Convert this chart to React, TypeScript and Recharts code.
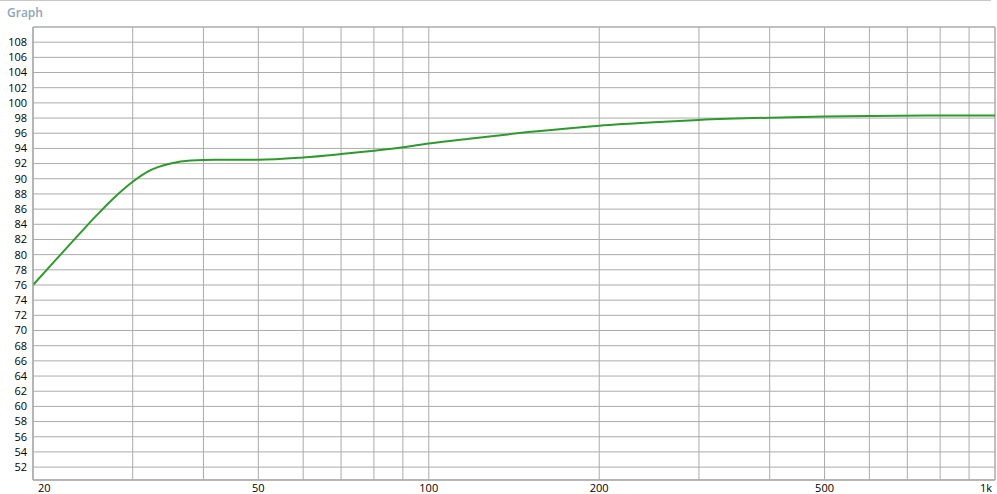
import React from 'react';
import {
    LineChart,
    Line,
    XAxis,
    YAxis,
    CartesianGrid,
    ReferenceArea,
} from 'recharts';

// frequency response
const freqs = [20, 22, 24, 26, 28, 30, 32, 35, 38, 42, 50, 60, 70, 80, 90, 100, 120, 150, 200, 250, 300, 400, 500, 600, 800, 1000];
const levels = [76.0, 79.4, 82.5, 85.3, 87.7, 89.6, 91.0, 92.0, 92.4, 92.5, 92.5, 92.8, 93.25, 93.7, 94.15, 94.65, 95.35, 96.15, 97.0, 97.45, 97.75, 98.05, 98.2, 98.28, 98.33, 98.35];

const gridFreqs = [20, 30, 40, 50, 60, 70, 80, 90, 100, 200, 300, 400, 500, 600, 700, 800, 900, 1000];
const freqLabels: Record<number, string> = { 20: '20', 50: '50', 100: '100', 200: '200', 500: '500', 1000: '1k' };
const levelTicks = [52, 54, 56, 58, 60, 62, 64, 66, 68, 70, 72, 74, 76, 78, 80, 82, 84, 86, 88, 90, 92, 94, 96, 98, 100, 102, 104, 106, 108];

const xDomain: [number, number] = [20, 1000];
const yDomain: [number, number] = [50.3, 110];

const data = freqs.map((f, i) => ({ f, db: levels[i] }));

const FONT = '"Segoe UI", "Open Sans", "Noto Sans", sans-serif';
const GRID = '#ababab';

const FreqTick = ({ x, y, payload }: any) => {
    const label = freqLabels[payload.value];
    if (!label) return null;
    let anchor: 'start' | 'middle' | 'end' = 'middle';
    let dx = 0;
    if (payload.value === xDomain[0]) { anchor = 'start'; dx = 5; }
    if (payload.value === xDomain[1]) { anchor = 'end'; dx = -3; }
    return (
        <text x={x + dx} y={y + 12} textAnchor={anchor} fontSize={11} fontFamily={FONT} fill="#000">
            {label}
        </text>
    );
};

export default function App() {
    return (
        <div style={{ position: 'absolute', left: 0, top: 0, width: 997, height: 494, background: '#fff' }}>
            <div style={{ position: 'absolute', left: 0, top: 0, width: 991, height: 0, borderTop: '1px solid #c8c8c8' }} />
            <div style={{
                position: 'absolute',
                left: 7,
                top: 5,
                fontFamily: FONT,
                fontSize: 12,
                fontWeight: 600,
                color: '#8ea4bc',
                lineHeight: '16px',
            }}>
                Graph
            </div>
            <LineChart
                width={997}
                height={494}
                data={data}
                margin={{ top: 27, right: 2, left: 0, bottom: 0 }}
            >
                <CartesianGrid stroke={GRID} />
                <XAxis
                    dataKey="f"
                    type="number"
                    scale="log"
                    domain={xDomain}
                    ticks={gridFreqs}
                    allowDataOverflow
                    height={14}
                    tickSize={0}
                    tickMargin={0}
                    tickLine={false}
                    axisLine={{ stroke: GRID }}
                    tick={<FreqTick />}
                    interval={0}
                />
                <YAxis
                    type="number"
                    domain={yDomain}
                    ticks={levelTicks}
                    allowDataOverflow
                    width={33}
                    tickSize={0}
                    tickMargin={6}
                    tickLine={false}
                    axisLine={{ stroke: GRID }}
                    tick={{ fontSize: 11, fill: '#000', fontFamily: FONT }}
                    interval={0}
                />
                <ReferenceArea
                    x1={xDomain[0]}
                    x2={xDomain[1]}
                    y1={yDomain[0]}
                    y2={yDomain[1]}
                    fill="none"
                    stroke={GRID}
                    ifOverflow="visible"
                />
                <Line
                    type="monotone"
                    dataKey="db"
                    stroke="#2e9a2e"
                    strokeWidth={2}
                    dot={false}
                    activeDot={false}
                    isAnimationActive={false}
                />
            </LineChart>
        </div>
    );
}
